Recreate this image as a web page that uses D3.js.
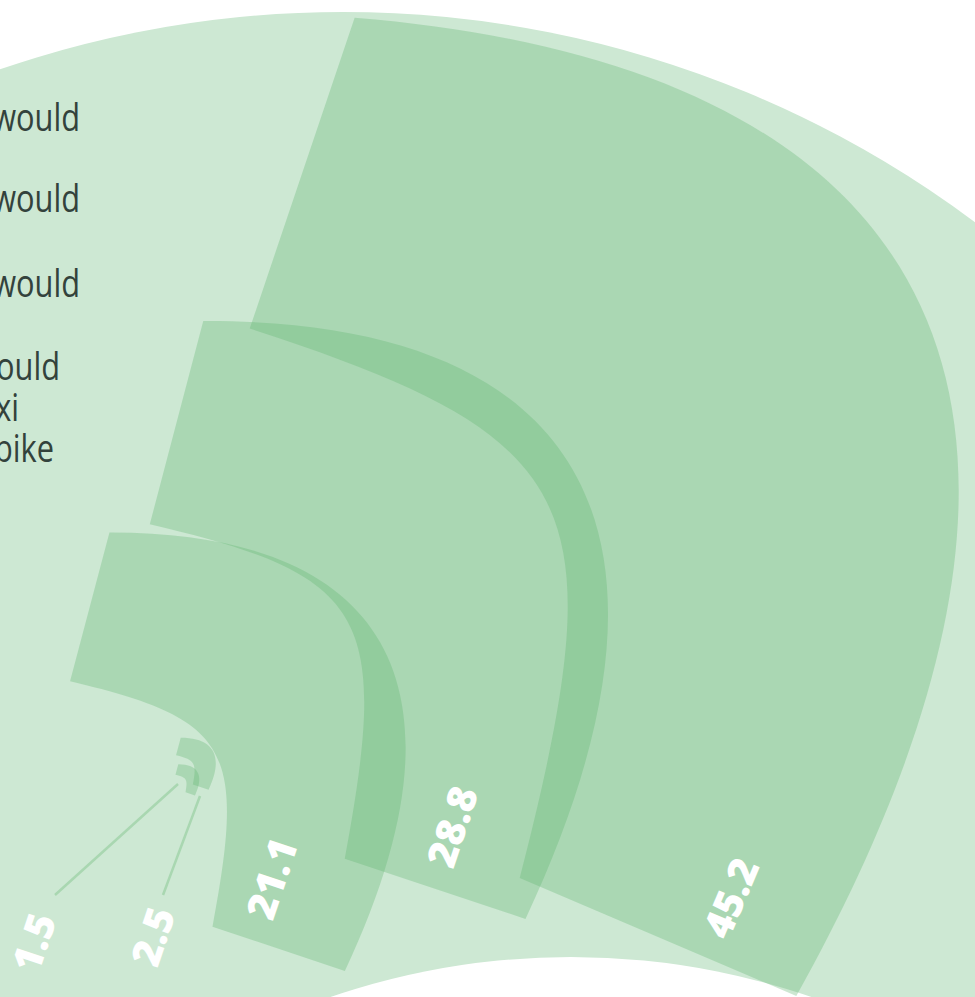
<!DOCTYPE html>
<html>
<head>
<meta charset="utf-8">
<script src="https://cdn.jsdelivr.net/npm/d3@7"></script>
<style>
  html, body { margin: 0; padding: 0; background: #ffffff; overflow: hidden; }
  svg { display: block; }
</style>
</head>
<body>
<svg id="chart" width="975" height="997"></svg>
<script>
// ---------------- data ----------------
const values = [1.5, 2.5, 21.1, 28.8, 45.2];
const valueLabels = ["1.5", "2.5", "21.1", "28.8", "45.2"];
const legendLines = [["would"], ["would"], ["would"], ["would", "taxi", "bike"]];

// ---------------- layout (not data) ----------------
const SX = 0.89;            // horizontal compression of the drawing frame
const TWIST = -2;           // inner corners twist (deg)
const glyphLayout = [
  { cx: 194.1, cy: 789.2, rot: 14 },
  { cx: 192.7, cy: 779.3, rot: 14 },
  { cx: 36.0,  cy: 884.0, rot: 13.9 },
  { cx: 110.5, cy: 801.0, rot: 13.8 },
  { cx: 157.5, cy: 755.0, rot: 18.1 }
];
const leaderLayout = {
  0: { line: [178, 784, 55, 895], label: [33, 942] },
  1: { line: [200, 796, 163, 895], label: [152, 936] }
};
const legendLayout = [
  { y: 131, ends: [80] },
  { y: 212, ends: [80] },
  { y: 297, ends: [80] },
  { y: 380, ends: [60, 19, 54], dy: 41 }
];
const colors = { bg: "#cde8d3", wedge: "#5fb56f", wedgeOpacity: 0.32, text: "#33423c", leader: "#a9d7b1" };

// scales: radii proportional to value
const rOut = d3.scaleLinear().domain([0, 1]).range([0, 17.16]);
const rIn  = d3.scaleLinear().domain([0, 1]).range([0, 9.82]);
// edge curvature: handle length (fraction of radius) and lean angle
const OUT_H = 0.876, OUT_LEAN = 14;
const IN_H = 0.885, IN_LEAN = 0;

const svg = d3.select("#chart");

// background disc and white disc
svg.append("circle").attr("cx", 343).attr("cy", 1067).attr("r", 1055).attr("fill", colors.bg);
svg.append("circle").attr("cx", 571).attr("cy", 1700).attr("r", 743).attr("fill", "#ffffff");

// legend texts (cropped at the left edge)
const legend = svg.append("g").attr("fill", colors.text)
  .style("font-family", "'Open Sans', sans-serif").style("font-size", "38px");
legendLines.forEach((lines, i) => {
  lines.forEach((t, j) => {
    legend.append("text")
      .attr("transform", `translate(${legendLayout[i].ends[j]},${legendLayout[i].y + j * (legendLayout[i].dy || 0)}) scale(0.81,1)`)
      .attr("text-anchor", "end")
      .text(t);
  });
});

const deg = Math.PI / 180;
function rot(p, a) { const c = Math.cos(a * deg), s = Math.sin(a * deg); return [p[0] * c - p[1] * s, p[0] * s + p[1] * c]; }
function quarter(rad, h, lean) {
  const ca = Math.cos(lean * deg), sa = Math.sin(lean * deg);
  return {
    a: [0, -rad],
    c1: [rad * h * ca, -rad - rad * h * sa],
    c2: [rad + rad * h * sa, -rad * h * ca],
    b: [rad, 0]
  };
}
function glyph(v) {
  const o = quarter(rOut(v), OUT_H, OUT_LEAN);
  const q = quarter(rIn(v), IN_H, IN_LEAN);
  const i = {}; Object.keys(q).forEach(k => i[k] = rot(q[k], TWIST));
  const p = d3.path();
  p.moveTo(...i.a);
  p.lineTo(...o.a);
  p.bezierCurveTo(...o.c1, ...o.c2, ...o.b);
  p.lineTo(...i.b);
  p.bezierCurveTo(...i.c2, ...i.c1, ...i.a);
  p.closePath();
  return p.toString();
}
function toScreen(i, local) {
  const L = glyphLayout[i];
  const q = rot(local, L.rot);
  return [SX * (L.cx + q[0]), L.cy + q[1]];
}

// wedges
const frame = svg.append("g").attr("transform", `scale(${SX},1)`);
frame.selectAll("path.wedge").data(values).join("path")
  .attr("class", "wedge")
  .attr("transform", (d, i) => `translate(${glyphLayout[i].cx},${glyphLayout[i].cy}) rotate(${glyphLayout[i].rot})`)
  .attr("d", d => glyph(d))
  .attr("fill", colors.wedge)
  .attr("fill-opacity", colors.wedgeOpacity);

// leader lines for small values
Object.keys(leaderLayout).forEach(k => {
  const l = leaderLayout[k].line;
  svg.append("line").attr("x1", l[0]).attr("y1", l[1]).attr("x2", l[2]).attr("y2", l[3])
    .attr("stroke", colors.leader).attr("stroke-width", 2.5);
});

// value labels
const labelG = svg.append("g").attr("fill", "#ffffff")
  .style("font-family", "'Open Sans', sans-serif").style("font-weight", 800).style("font-size", "40px");
values.forEach((v, i) => {
  const ob = toScreen(i, [rOut(v), 0]);
  const ib = toScreen(i, rot([rIn(v), 0], TWIST));
  const len = Math.hypot(ob[0] - ib[0], ob[1] - ib[1]);
  const e = [(ob[0] - ib[0]) / len, (ob[1] - ib[1]) / len];
  const n = [e[1], -e[0]];
  const ang = Math.atan2(n[1], n[0]) / deg;
  const pos = leaderLayout[i] ? leaderLayout[i].label
    : [ob[0] - 99.6 * e[0] + 64.5 * n[0], ob[1] - 99.6 * e[1] + 64.5 * n[1]];
  labelG.append("text")
    .attr("transform", `translate(${pos[0]},${pos[1]}) rotate(${ang})`)
    .attr("text-anchor", "middle")
    .attr("dominant-baseline", "central")
    .text(valueLabels[i]);
});
</script>
</body>
</html>
